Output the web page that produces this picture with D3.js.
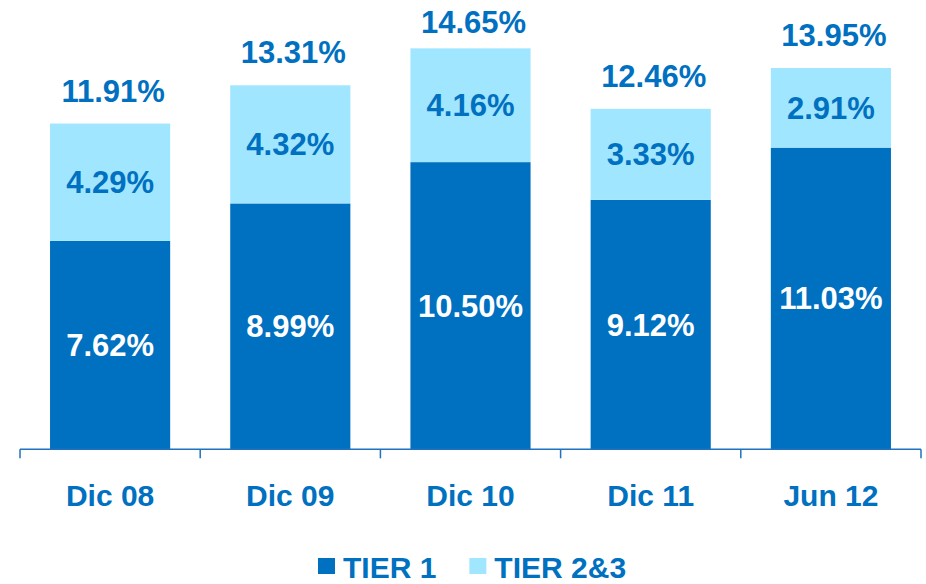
<!DOCTYPE html>
<html>
<head>
<meta charset="utf-8">
<script src="https://cdn.jsdelivr.net/npm/d3@7"></script>
<style>
  html, body { margin: 0; padding: 0; background: #ffffff; }
  svg { display: block; font-family: "Liberation Sans", Arial, sans-serif; font-weight: bold; }
</style>
</head>
<body>
<svg id="chart" width="926" height="584"></svg>
<script>
// Capital ratios by period
const categories = ["Dic 08", "Dic 09", "Dic 10", "Dic 11", "Jun 12"];
const tier1 = [7.62, 8.99, 10.50, 9.12, 11.03];
const tier23 = [4.29, 4.32, 4.16, 3.33, 2.91];
const totals = [11.91, 13.31, 14.65, 12.46, 13.95];
const seriesNames = ["TIER 1", "TIER 2&3"];

const colors = { tier1: "#0070C0", tier23: "#A0E6FF", text: "#0070C0", axis: "#1F72BF" };
const fmt = v => v.toFixed(2) + "%";

const svg = d3.select("#chart");
const baseY = 449.3;

const x = d3.scaleBand()
  .domain(categories)
  .range([20, 921])
  .paddingInner(1 / 3)
  .paddingOuter(1 / 6);

const y = d3.scaleLinear()
  .domain([0, 16])
  .range([baseY, baseY - 16 * 27.35]);

const rows = categories.map((c, i) => ({ c, t1: tier1[i], t23: tier23[i], total: totals[i] }));

// Tier 1 segments
svg.append("g").selectAll("rect")
  .data(rows).join("rect")
  .attr("x", d => x(d.c))
  .attr("width", x.bandwidth())
  .attr("y", d => y(d.t1))
  .attr("height", d => y(0) - y(d.t1))
  .attr("fill", colors.tier1);

// Tier 2&3 segments stacked on top
svg.append("g").selectAll("rect")
  .data(rows).join("rect")
  .attr("x", d => x(d.c))
  .attr("width", x.bandwidth())
  .attr("y", d => y(d.t1 + d.t23))
  .attr("height", d => y(d.t1) - y(d.t1 + d.t23))
  .attr("fill", colors.tier23);

// Axis along the base with ticks at the band boundaries
const step = x.step();
const edges = d3.range(categories.length + 1).map(i => x.range()[0] + i * step);
const axisG = svg.append("g");
axisG.append("line")
  .attr("x1", edges[0]).attr("x2", edges[edges.length - 1])
  .attr("y1", baseY).attr("y2", baseY)
  .attr("stroke", colors.axis).attr("stroke-width", 1.5);
axisG.selectAll("line.tick")
  .data(edges).join("line")
  .attr("class", "tick")
  .attr("x1", d => d).attr("x2", d => d)
  .attr("y1", baseY).attr("y2", baseY + 9)
  .attr("stroke", colors.axis).attr("stroke-width", 1.5);

// Category labels
svg.append("g").selectAll("text")
  .data(categories).join("text")
  .attr("x", d => x(d) + x.bandwidth() / 2)
  .attr("y", 506)
  .attr("text-anchor", "middle")
  .attr("font-size", 30)
  .attr("fill", colors.text)
  .text(d => d);

// Segment value labels
svg.append("g").selectAll("text")
  .data(rows).join("text")
  .attr("x", d => x(d.c) + x.bandwidth() / 2)
  .attr("y", d => (y(0) + y(d.t1)) / 2 + 11)
  .attr("text-anchor", "middle")
  .attr("font-size", 31)
  .attr("fill", "#ffffff")
  .text(d => fmt(d.t1));

svg.append("g").selectAll("text")
  .data(rows).join("text")
  .attr("x", d => x(d.c) + x.bandwidth() / 2)
  .attr("y", d => (y(d.t1) + y(d.t1 + d.t23)) / 2 + 11)
  .attr("text-anchor", "middle")
  .attr("font-size", 31)
  .attr("fill", colors.text)
  .text(d => fmt(d.t23));

// Total labels above the stacks, kept inside the top edge
svg.append("g").selectAll("text")
  .data(rows).join("text")
  .attr("x", d => x(d.c) + x.bandwidth() / 2 + 3)
  .attr("y", d => Math.max(y(d.total) - 22, 33))
  .attr("text-anchor", "middle")
  .attr("font-size", 31)
  .attr("fill", colors.text)
  .text(d => fmt(d.total));

// Legend
const legend = svg.append("g");
const swatchColors = [colors.tier1, colors.tier23];
let lx = 318;
seriesNames.forEach((name, i) => {
  legend.append("rect")
    .attr("x", lx).attr("y", 558)
    .attr("width", 17).attr("height", 16)
    .attr("fill", swatchColors[i]);
  const t = legend.append("text")
    .attr("x", lx + 25).attr("y", 577.5)
    .attr("font-size", 30)
    .attr("fill", colors.text)
    .text(name);
  lx += 25 + t.node().getComputedTextLength() + 33;
});
</script>
</body>
</html>
